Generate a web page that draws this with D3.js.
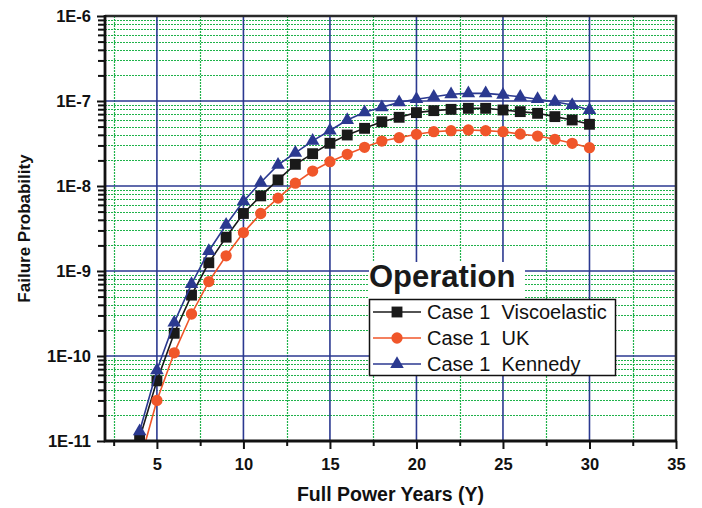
<!DOCTYPE html>
<html>
<head>
<meta charset="utf-8">
<script src="https://cdnjs.cloudflare.com/ajax/libs/d3/7.8.5/d3.min.js"></script>
<style>
  body{margin:0;background:#fff;}
  text{font-family:'Liberation Sans',Arial,Helvetica,sans-serif;}
</style>
</head>
<body>
<div class="chartWrap"></div>
<script>
// full power years
var years = [4,5,6,7,8,9,10,11,12,13,14,15,16,17,18,19,20,21,22,23,24,25,26,27,28,29,30];

var viscoelastic = [1.07e-11,5.1e-11,1.85e-10,5.2e-10,1.25e-9,2.5e-9,4.75e-9,7.65e-9,1.18e-8,1.8e-8,2.4e-8,3.18e-8,3.98e-8,4.77e-8,5.7e-8,6.43e-8,7.3e-8,7.7e-8,7.98e-8,8.2e-8,8.2e-8,7.84e-8,7.5e-8,7.16e-8,6.55e-8,5.98e-8,5.32e-8];
var uk = [5.5e-12,3.0e-11,1.09e-10,3.12e-10,7.5e-10,1.51e-9,2.83e-9,4.75e-9,7.2e-9,1.08e-8,1.5e-8,1.93e-8,2.36e-8,2.85e-8,3.38e-8,3.7e-8,4.06e-8,4.35e-8,4.48e-8,4.56e-8,4.48e-8,4.35e-8,4.09e-8,3.87e-8,3.54e-8,3.18e-8,2.82e-8];
var kennedy = [1.3e-11,6.8e-11,2.47e-10,7e-10,1.72e-9,3.5e-9,6.6e-9,1.1e-8,1.77e-8,2.45e-8,3.4e-8,4.5e-8,5.97e-8,7.36e-8,8.43e-8,9.66e-8,1.05e-7,1.12e-7,1.2e-7,1.23e-7,1.23e-7,1.18e-7,1.12e-7,1.05e-7,9.8e-8,8.97e-8,7.84e-8];

var seriesNames = ['Case 1  Viscoelastic', 'Case 1  UK', 'Case 1  Kennedy'];
var xTicks = [5,10,15,20,25,30,35];
var xMinorTicks = [2.5,7.5,12.5,17.5,22.5,27.5,32.5];
var yTicks = [1e-11,1e-10,1e-9,1e-8,1e-7,1e-6];
var yTickLabels = ['1E-11','1E-10','1E-9','1E-8','1E-7','1E-6'];
var legendTitle = 'Operation';

var chart = {

  init: function(){
    var self = this;
    self.width = 702;
    self.height = 508;
    self.left = 105; self.right = 676; self.top = 16; self.bottom = 441;
    self.blue = '#2b3990';
    self.green = '#1fb24a';
    self.styles = [
      {color:'#1a1a1a', shape:d3.symbolSquare, size:118},
      {color:'#f0562a', shape:d3.symbolCircle, size:100},
      {color:'#2b3990', shape:d3.symbolTriangle, size:80}
    ];
    self.series = [viscoelastic, uk, kennedy];

    self.x = d3.scaleLinear().domain([2,35]).range([self.left, self.right]);
    self.y = d3.scaleLog().domain([1e-11,1e-6]).range([self.bottom, self.top]);

    self.svg = d3.select('.chartWrap').append('svg')
      .attr('width', self.width)
      .attr('height', self.height);

    self.drawGrid();
    self.drawSeries();
    self.drawAxes();
    self.drawLegend();
  },

  minorLogs: function(){
    var out = [];
    for(var e=-11; e<=-7; e++){
      for(var m=2; m<=9; m++){ out.push(m*Math.pow(10,e)); }
    }
    return out;
  },

  drawGrid: function(){
    var self = this;
    var yMinor = self.minorLogs();
    var g = self.svg.append('g').attr('class','grid');

    g.selectAll('.hMinor').data(yMinor).enter().append('line')
      .attr('x1', self.left).attr('x2', self.right)
      .attr('y1', function(d){return Math.round(self.y(d))+0.5;})
      .attr('y2', function(d){return Math.round(self.y(d))+0.5;})
      .style('stroke', self.green).style('stroke-width',1.2).style('stroke-dasharray','2,1');

    g.selectAll('.vMinor').data(xMinorTicks).enter().append('line')
      .attr('y1', self.top).attr('y2', self.bottom)
      .attr('x1', function(d){return Math.round(self.x(d))+0.5;})
      .attr('x2', function(d){return Math.round(self.x(d))+0.5;})
      .style('stroke', self.green).style('stroke-width',1.2).style('stroke-dasharray','2,1');

    g.selectAll('.hMajor').data(yTicks.slice(1,5)).enter().append('line')
      .attr('x1', self.left).attr('x2', self.right)
      .attr('y1', function(d){return self.y(d);})
      .attr('y2', function(d){return self.y(d);})
      .style('stroke', self.blue).style('stroke-width',1.6);

    g.selectAll('.vMajor').data(xTicks.slice(0,6)).enter().append('line')
      .attr('y1', self.top).attr('y2', self.bottom)
      .attr('x1', function(d){return self.x(d);})
      .attr('x2', function(d){return self.x(d);})
      .style('stroke', self.blue).style('stroke-width',1.6);
  },

  drawSeries: function(){
    var self = this;
    self.svg.append('clipPath').attr('id','plotClip')
      .append('rect')
      .attr('x', self.left).attr('y', self.top)
      .attr('width', self.right-self.left).attr('height', self.bottom-self.top);

    var line = d3.line()
      .x(function(d){return self.x(d[0]);})
      .y(function(d){return self.y(d[1]);});

    self.series.forEach(function(vals, i){
      var st = self.styles[i];
      var pts = years.map(function(yr, j){return [yr, vals[j]];});
      var g = self.svg.append('g').attr('clip-path','url(#plotClip)');
      g.append('path')
        .attr('d', line(pts))
        .style('fill','none').style('stroke', st.color).style('stroke-width',1.6);
      g.selectAll('path.marker').data(pts).enter().append('path')
        .attr('class','marker')
        .attr('d', d3.symbol().type(st.shape).size(st.size))
        .attr('transform', function(d){return 'translate(' + self.x(d[0]) + ',' + self.y(d[1]) + ')';})
        .style('fill', st.color);
    });
  },

  drawAxes: function(){
    var self = this;
    var yMinor = self.minorLogs();

    // frame top + right
    self.svg.append('path')
      .attr('d', 'M' + self.left + ',' + self.top + 'H' + self.right + 'V' + self.bottom)
      .style('fill','none').style('stroke','#2a2a2a').style('stroke-width',2.5);

    var yMinorAxis = self.svg.append('g')
      .attr('transform','translate(' + self.left + ',0)')
      .call(d3.axisLeft(self.y).tickValues(yMinor).tickSize(7).tickFormat(''));
    var xMinorAxis = self.svg.append('g')
      .attr('transform','translate(0,' + self.bottom + ')')
      .call(d3.axisBottom(self.x).tickValues(xMinorTicks).tickSize(5).tickFormat(''));

    var yAxis = self.svg.append('g')
      .attr('transform','translate(' + self.left + ',0)')
      .call(d3.axisLeft(self.y).tickValues(yTicks).tickSize(8).tickPadding(6)
        .tickFormat(function(d,i){return yTickLabels[i];}));
    var xAxis = self.svg.append('g')
      .attr('transform','translate(0,' + self.bottom + ')')
      .call(d3.axisBottom(self.x).tickValues(xTicks).tickSize(8).tickPadding(9)
        .tickFormat(function(d){return d;}));

    [yMinorAxis, xMinorAxis, yAxis, xAxis].forEach(function(a){
      a.select('.domain').remove();
      a.selectAll('.tick line').style('stroke','#111').style('stroke-width',2);
      a.selectAll('.tick text')
        .style('font-family',"'Liberation Sans',Arial,sans-serif")
        .style('font-size','16.5px').style('font-weight','bold').style('fill','#111');
    });

    // axis lines
    self.svg.append('path')
      .attr('d', 'M' + self.left + ',' + (self.top-1) + 'V' + self.bottom + 'H' + (self.right+1))
      .style('fill','none').style('stroke','#111').style('stroke-width',2.8);

    self.svg.append('text')
      .text('Failure Probability')
      .attr('transform','translate(30,' + ((self.top+self.bottom)/2) + ') rotate(-90)')
      .attr('text-anchor','middle')
      .style('font-size','17px').style('font-weight','bold').style('fill','#111');

    self.svg.append('text')
      .text('Full Power Years (Y)')
      .attr('x', (self.left+self.right)/2).attr('y', 501)
      .attr('text-anchor','middle')
      .style('font-size','19.5px').style('font-weight','bold').style('fill','#111');
  },

  drawLegend: function(){
    var self = this;
    var lg = self.svg.append('g').attr('class','legend');

    lg.append('rect')
      .attr('x',369).attr('y',262).attr('width',156).attr('height',37)
      .style('fill','#fff');
    lg.append('text')
      .text(legendTitle)
      .attr('x',369).attr('y',287)
      .style('font-size','31px').style('font-weight','bold').style('fill','#1a1a1a');

    lg.append('rect')
      .attr('x',369.5).attr('y',299.5).attr('width',246).attr('height',76)
      .style('fill','#fff').style('stroke','#111').style('stroke-width',1.5);

    var rows = lg.selectAll('.row').data(seriesNames).enter().append('g')
      .attr('transform', function(d,i){return 'translate(0,' + (312 + i*26) + ')';});

    rows.append('line')
      .attr('x1',373).attr('x2',421).attr('y1',0).attr('y2',0)
      .style('stroke', function(d,i){return self.styles[i].color;}).style('stroke-width',1.6);
    rows.append('path')
      .attr('d', function(d,i){return d3.symbol().type(self.styles[i].shape).size(self.styles[i].size)();})
      .attr('transform','translate(397,0)')
      .style('fill', function(d,i){return self.styles[i].color;});
    rows.append('text')
      .text(function(d){return d;})
      .attr('x',427).attr('y',7)
      .style('font-size','20px').style('fill','#111')
      .style('white-space','pre').attr('xml:space','preserve');
  }
};

chart.init();
</script>
</body>
</html>
